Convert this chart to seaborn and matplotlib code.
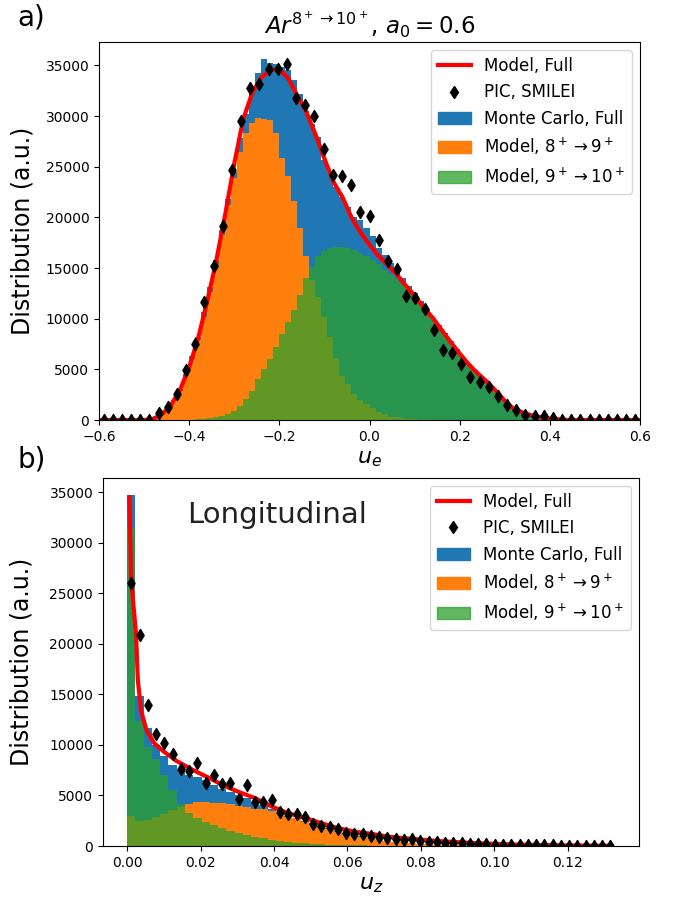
import numpy as np
import pandas as pd
import matplotlib
matplotlib.use("Agg")
import matplotlib.pyplot as plt
import seaborn as sns
from matplotlib.lines import Line2D
from matplotlib.patches import Patch

# ---------------- panel a) transverse u_e ----------------
a_bin_range = (-0.6, 0.6)
a_nbins = 90
a_blue = [0, 0, 0, 0, 0, 0, 0,
          30, 150, 350, 700, 1200, 2000, 3100, 4500, 6300, 8200,
          10700, 13100, 15800, 18800, 21800, 24500, 27800, 30200, 32500, 34200,
          35600, 35200, 35100, 34800, 34500, 33600, 32200, 30500, 29200, 27900,
          25700, 24500, 23000, 22000, 21000, 20000, 19700, 18900, 18200, 17000,
          16300, 15500, 14700, 14000, 13200, 12500, 11700, 10900, 10100, 9400,
          8600, 7800, 7000, 6200, 5500, 4900, 4300, 3700, 3100, 2500,
          1900, 1400, 1000, 700, 500, 350, 250, 150, 100, 50,
          0, 0, 0, 0, 0, 0, 0, 0, 0, 0, 0, 0, 0]
a_orange = [0, 0, 0, 0, 0, 0, 0, 0,
            50, 300, 600, 1050, 1900, 2900, 4300, 6000, 7900, 10200,
            12600, 15200, 18300, 21200, 23900, 26400, 28300, 29300, 29800, 29700,
            29600, 28300, 25900, 24100, 21600, 18900, 16200, 13800, 12100, 10200,
            8200, 6100, 4300, 3600, 2600, 2000, 1600, 1150, 820, 550,
            330, 250, 180, 120, 80, 50, 30,
            0, 0, 0, 0, 0, 0, 0, 0, 0, 0, 0, 0, 0, 0, 0, 0, 0, 0, 0, 0,
            0, 0, 0, 0, 0, 0, 0, 0, 0, 0, 0, 0, 0, 0, 0]
a_green = [0, 0, 0, 0, 0, 0, 0, 0, 0, 0, 0, 0, 0, 0, 0,
           30, 60, 100, 160, 250, 400, 600, 900, 1400, 2100,
           2900, 4000, 5000, 6000, 7200, 8500, 9700, 10900, 12300, 14000,
           15100, 16200, 16700, 17000, 17100, 17050, 16950, 16750, 16500, 16200,
           15800, 15350, 14850, 14400, 13900, 13400, 12900, 12200, 11450, 10750,
           10050, 9250, 8450, 7650, 6950, 6150, 5450, 4850, 4250, 3750,
           3150, 2550, 1900, 1400, 1000, 720, 520, 380, 260, 170,
           110, 50,
           0, 0, 0, 0, 0, 0, 0, 0, 0, 0, 0, 0, 0]
a_pic = [0, 0, 0, 0, 0, 0,
         660, 1250, 2530, 4930, 7460, 11600, 15220, 19170, 24720, 29520,
         32800, 33170, 34650, 34650, 35100, 31750, 31060, 29970, 26750, 24160,
         24060, 23200, 20510, 20150, 17750, 15650, 14950, 12260, 12000, 11000,
         8900, 6870, 6570, 5550, 4270, 3730, 3230, 2330, 1530, 1020,
         490, 440, 440, 200,
         0, 0, 0, 0, 0, 0, 0, 0, 0]
a_model_u = np.round(np.linspace(-0.6, 0.6, 61), 3)
a_model = [0, 0, 0, 0, 0, 0,
           100, 600, 1500, 3000, 5200, 8100, 11700, 15700, 20300, 25300,
           29700, 32300, 33800, 34550, 34600, 33700, 32000, 30400, 28200, 25800,
           23500, 22000, 20000, 18500, 17300, 16200, 15300, 14400, 13300, 12300,
           11100, 10100, 8900, 7700, 6570, 5500, 4600, 3800, 2900, 1900,
           1100, 750, 450, 280, 150, 60,
           0, 0, 0, 0, 0, 0, 0, 0, 0]

# ---------------- panel b) longitudinal u_z ----------------
b_bin_range = (0.0, 0.13275)
b_nbins = 59
b_blue = [34700, 14800, 11700, 10000, 8900, 8000, 7500, 7000, 6800, 6500,
          6000, 5600, 5300, 5000, 4750, 4400, 4050, 3700, 3300, 3000,
          2800, 2500, 2250, 1980, 1750, 1480, 1300, 1100, 950, 790,
          680, 540, 440, 350, 280, 220, 170, 130, 100, 80,
          60, 45, 35, 25, 20, 15, 10, 8, 6, 5,
          4, 3, 2, 2, 1, 1, 0, 0, 0]
b_orange = [3000, 2450, 2600, 2900, 3200, 3550, 3850, 4150, 4350, 4350,
            4300, 4220, 4150, 3950, 3820, 3680, 3620, 3490, 3160, 2900,
            2730, 2400, 2170, 1910, 1680, 1410, 1250, 1050, 920, 760,
            660, 530, 430, 350, 280, 220, 170, 130, 100, 80,
            60, 45, 35, 25, 20, 15, 10, 8, 6, 5,
            4, 3, 2, 2, 1, 1, 0, 0, 0]
b_green = [31500, 12350, 9800, 8600, 7000, 5500, 4150, 3300, 2800, 2400,
           2050, 1740, 1450, 1250, 1100, 900, 750, 600, 480, 390,
           320, 260, 210, 170, 140, 110, 90, 70, 55, 45,
           35, 25, 20, 15, 10,
           0, 0, 0, 0, 0, 0, 0, 0, 0, 0, 0, 0, 0, 0, 0, 0, 0, 0, 0, 0, 0, 0, 0, 0]
b_pic = [26050, 20850, 13900, 11030, 10210, 9090, 7610, 7440, 8170, 6190,
         7010, 6130, 6260, 4610, 6030, 4380, 4380, 4540, 3390, 3160,
         3130, 2830, 2140, 1980, 1910, 1650, 1320, 1150, 1150, 990,
         920, 820, 660, 590, 660, 490, 420, 380, 330, 290,
         250, 220, 190, 160, 140, 120, 100, 90, 80, 70,
         60, 50, 40, 35, 30, 25, 20, 15, 10]
b_model_u = [0.0006, 0.0011, 0.0024, 0.0029, 0.0038, 0.0052, 0.0074, 0.0101, 0.0135, 0.018,
             0.0225, 0.026, 0.030, 0.035, 0.0395, 0.044, 0.0486, 0.0531, 0.0576, 0.0621,
             0.0667, 0.0712, 0.0757, 0.085, 0.095, 0.105, 0.115, 0.125, 0.132]
b_model = [34500, 26300, 21000, 16400, 13400, 11500, 10150, 9300, 8400, 7500,
           6700, 6030, 5400, 4710, 3880, 3230, 2740, 2240, 1750, 1410,
           1190, 920, 760, 480, 280, 150, 80, 40, 20]

labels = ["Model, Full", "PIC, SMILEI", "Monte Carlo, Full",
          r"Model, $8^+\rightarrow 9^+$", r"Model, $9^+\rightarrow 10^+$"]

BLUE, ORANGE, GREEN = "#1f77b4", "#ff7f0e", "#2ca02c"

fig = plt.figure(figsize=(6.81, 9.0), dpi=100)
ax1 = fig.add_axes([0.1454, 0.5333, 0.7944, 0.42])
ax2 = fig.add_axes([0.1512, 0.06, 0.787, 0.4089])


def draw(ax, rng, nb, blue, orange, green, mu, mv, pv):
    edges = np.linspace(rng[0], rng[1], nb + 1)
    cen = 0.5 * (edges[:-1] + edges[1:])
    pic_edges = np.linspace(rng[0], rng[1], len(pv) + 1)
    pic_x = 0.5 * (pic_edges[:-1] + pic_edges[1:])
    hist = pd.DataFrame({"u": cen, "blue": blue, "orange": orange, "green": green})
    for col, colr, al in (("blue", BLUE, 1.0), ("orange", ORANGE, 1.0), ("green", GREEN, 0.75)):
        sns.histplot(data=hist, x="u", weights=col, bins=nb, binrange=rng,
                     element="step", fill=True, color=colr, alpha=al,
                     linewidth=0, ax=ax)
    sns.lineplot(x=list(mu), y=mv, color="red", linewidth=3, ax=ax, errorbar=None)
    sns.scatterplot(x=pic_x, y=pv, marker="d", s=38, color="black",
                    edgecolor="black", linewidth=1.0, ax=ax, zorder=5)
    handles = [Line2D([], [], color="red", lw=3),
               Line2D([], [], color="black", marker="d", ls="", markersize=6,
                      markeredgewidth=1.0),
               Patch(color=BLUE), Patch(color=ORANGE), Patch(color=GREEN, alpha=0.75)]
    ax.legend(handles=handles, labels=labels, loc="upper right", fontsize=12)
    ax.set_ylabel("Distribution (a.u.)", fontsize=17)


draw(ax1, a_bin_range, a_nbins, a_blue, a_orange, a_green, a_model_u, a_model, a_pic)
draw(ax2, b_bin_range, b_nbins, b_blue, b_orange, b_green, b_model_u, b_model, b_pic)

ax1.set_xlim(-0.6, 0.6)
ax1.set_ylim(0, 37300)
ax1.set_xlabel(r"$u_e$", fontsize=16)
ax1.set_title(r"$Ar^{8^+\rightarrow 10^+}$, $a_0 = 0.6$", fontsize=16.5)
ax1.yaxis.set_label_coords(-0.12, 0.5)

ax2.set_xlim(-0.0066, 0.1394)
ax2.set_ylim(0, 36400)
ax2.set_xlabel(r"$u_z$", fontsize=16)
ax2.yaxis.set_label_coords(-0.129, 0.5)
ax2.text(0.324, 0.90, "Longitudinal", transform=ax2.transAxes, fontsize=21,
         ha="center", va="center", color="#222222")

for ax in (ax1, ax2):
    ax.tick_params(labelsize=10)

fig.text(0.025, 0.996, "a)", fontsize=20, ha="left", va="top")
fig.text(0.025, 0.505, "b)", fontsize=20, ha="left", va="top")

fig.savefig("out.png", dpi=100)
